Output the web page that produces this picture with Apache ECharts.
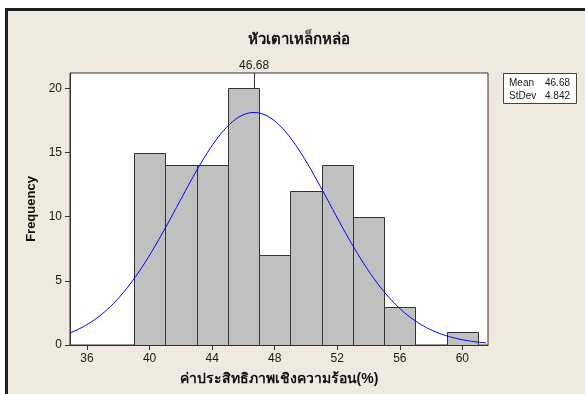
<!DOCTYPE html>
<html>
<head>
<meta charset="utf-8">
<script src="https://cdn.jsdelivr.net/npm/echarts@6/dist/echarts.min.js"></script>
<style>
  html, body { margin: 0; padding: 0; background: #ffffff; }
  #chart { width: 585px; height: 394px; }
</style>
</head>
<body>
<div id="chart"></div>
<script>
// Histogram of thermal efficiency (%) for cast-iron burner heads
const titleText = 'หัวเตาเหล็กหล่อ';
const xAxisTitle = 'ค่าประสิทธิภาพเชิงความร้อน(%)';
const yAxisTitle = 'Frequency';

const binStarts = [39, 41, 43, 45, 47, 49, 51, 53, 55, 57, 59];
const binWidth = 2;
const counts = [15, 14, 14, 20, 7, 12, 14, 10, 3, 0, 1];

const xTicks = [36, 40, 44, 48, 52, 56, 60];
const yTicks = [0, 5, 10, 15, 20];

const statLabels = ['Mean', 'StDev'];
const statValues = ['46.68', '4.842'];
const mean = 46.68;
const stdev = 4.842;

const xMin = 34.91, xMax = 61.64;
const yMin = 0, yMax = 21.2;

// bars as [start, end, count]
const barData = binStarts.map((s, i) => [s, s + binWidth, counts[i]]);

// fitted normal density, scaled to counts per bin
const total = counts.reduce((a, b) => a + b, 0);
const curve = [];
for (let x = xMin; x <= xMax + 1e-9; x += 0.2) {
  const z = (x - mean) / stdev;
  const y = total * binWidth * Math.exp(-0.5 * z * z) / (stdev * Math.sqrt(2 * Math.PI));
  curve.push([x, y]);
}

const chart = echarts.init(document.getElementById('chart'), null, { renderer: 'canvas' });
const textColor = '#1a1a1a';
const axisColor = '#333333';
const smallFont = '10px Arial, "Liberation Sans", sans-serif';

chart.setOption({
  animation: false,
  backgroundColor: 'transparent',
  graphic: [
    {
      type: 'rect', z: -10, silent: true,
      shape: { x: 6.5, y: 9.5, width: 640, height: 420 },
      style: { fill: '#EEEAE0', stroke: '#1e1e1e', lineWidth: 3 }
    },
    {
      type: 'group', left: 503, top: 73,
      children: [
        { type: 'rect', shape: { x: 0.5, y: 0.5, width: 73, height: 30 },
          style: { fill: '#ffffff', stroke: '#444444', lineWidth: 1 } },
        { type: 'text', x: 6, y: 10.5, style: { text: statLabels[0], font: smallFont, fill: textColor, verticalAlign: 'middle' } },
        { type: 'text', x: 67, y: 10.5, style: { text: statValues[0], font: smallFont, fill: textColor, align: 'right', verticalAlign: 'middle' } },
        { type: 'text', x: 6, y: 23.5, style: { text: statLabels[1], font: smallFont, fill: textColor, verticalAlign: 'middle' } },
        { type: 'text', x: 67, y: 23.5, style: { text: statValues[1], font: smallFont, fill: textColor, align: 'right', verticalAlign: 'middle' } }
      ]
    }
  ],
  title: {
    text: titleText,
    left: 294, top: 27, textAlign: 'center',
    textStyle: { fontSize: 15, fontWeight: 'bold', color: '#111', fontFamily: 'Arial, sans-serif' }
  },
  grid: {
    left: 70, top: 73, right: 97, bottom: 49,
    show: true, backgroundColor: '#ffffff', borderColor: axisColor, borderWidth: 1
  },
  xAxis: {
    type: 'value', min: xMin, max: xMax,
    name: xAxisTitle, nameLocation: 'middle', nameGap: 27,
    nameTextStyle: { fontSize: 14, fontWeight: 'bold', color: '#111', fontFamily: 'Arial, sans-serif' },
    splitLine: { show: false },
    axisLine: { show: true, lineStyle: { color: axisColor } },
    axisTick: { show: true, length: 5, customValues: xTicks, lineStyle: { color: axisColor } },
    axisLabel: { customValues: xTicks, margin: 8, fontSize: 12, color: textColor, fontFamily: 'Arial, sans-serif' }
  },
  yAxis: {
    type: 'value', min: yMin, max: yMax,
    name: yAxisTitle, nameLocation: 'middle', nameGap: 31, nameRotate: 90,
    nameTextStyle: { fontSize: 13, fontWeight: 'bold', color: '#111', fontFamily: 'Arial, sans-serif' },
    splitLine: { show: false },
    axisLine: { show: true, lineStyle: { color: axisColor } },
    axisTick: { show: true, length: 5, customValues: yTicks, lineStyle: { color: axisColor } },
    axisLabel: { customValues: yTicks, margin: 8, fontSize: 12, color: textColor, fontFamily: 'Arial, sans-serif' }
  },
  series: [
    {
      // reference line at the mean, kept beneath the bars
      type: 'line', data: [], z: 1, silent: true,
      markLine: {
        z: 1, silent: true, symbol: 'none', animation: false,
        lineStyle: { color: '#333333', width: 1, type: 'solid' },
        label: { show: true, position: 'end', distance: 1, formatter: String(mean),
                 fontSize: 12, color: textColor, fontFamily: 'Arial, sans-serif' },
        data: [{ xAxis: mean }]
      }
    },
    {
      type: 'custom', z: 6, silent: true,
      data: barData,
      encode: { x: [0, 1], y: 2 },
      renderItem: function (params, api) {
        const p0 = api.coord([api.value(0), api.value(2)]);
        const p1 = api.coord([api.value(1), 0]);
        return {
          type: 'rect',
          shape: { x: Math.round(p0[0]) + 0.5, y: Math.round(p0[1]) + 0.5,
                   width: Math.round(p1[0]) - Math.round(p0[0]), height: Math.round(p1[1]) - Math.round(p0[1]) },
          style: { fill: '#C0C0C0', stroke: '#333333', lineWidth: 1 }
        };
      }
    },
    {
      type: 'line', z: 7, silent: true,
      data: curve, showSymbol: false, smooth: false, clip: true,
      lineStyle: { color: '#0000FF', width: 1 }
    }
  ]
});
</script>
</body>
</html>
